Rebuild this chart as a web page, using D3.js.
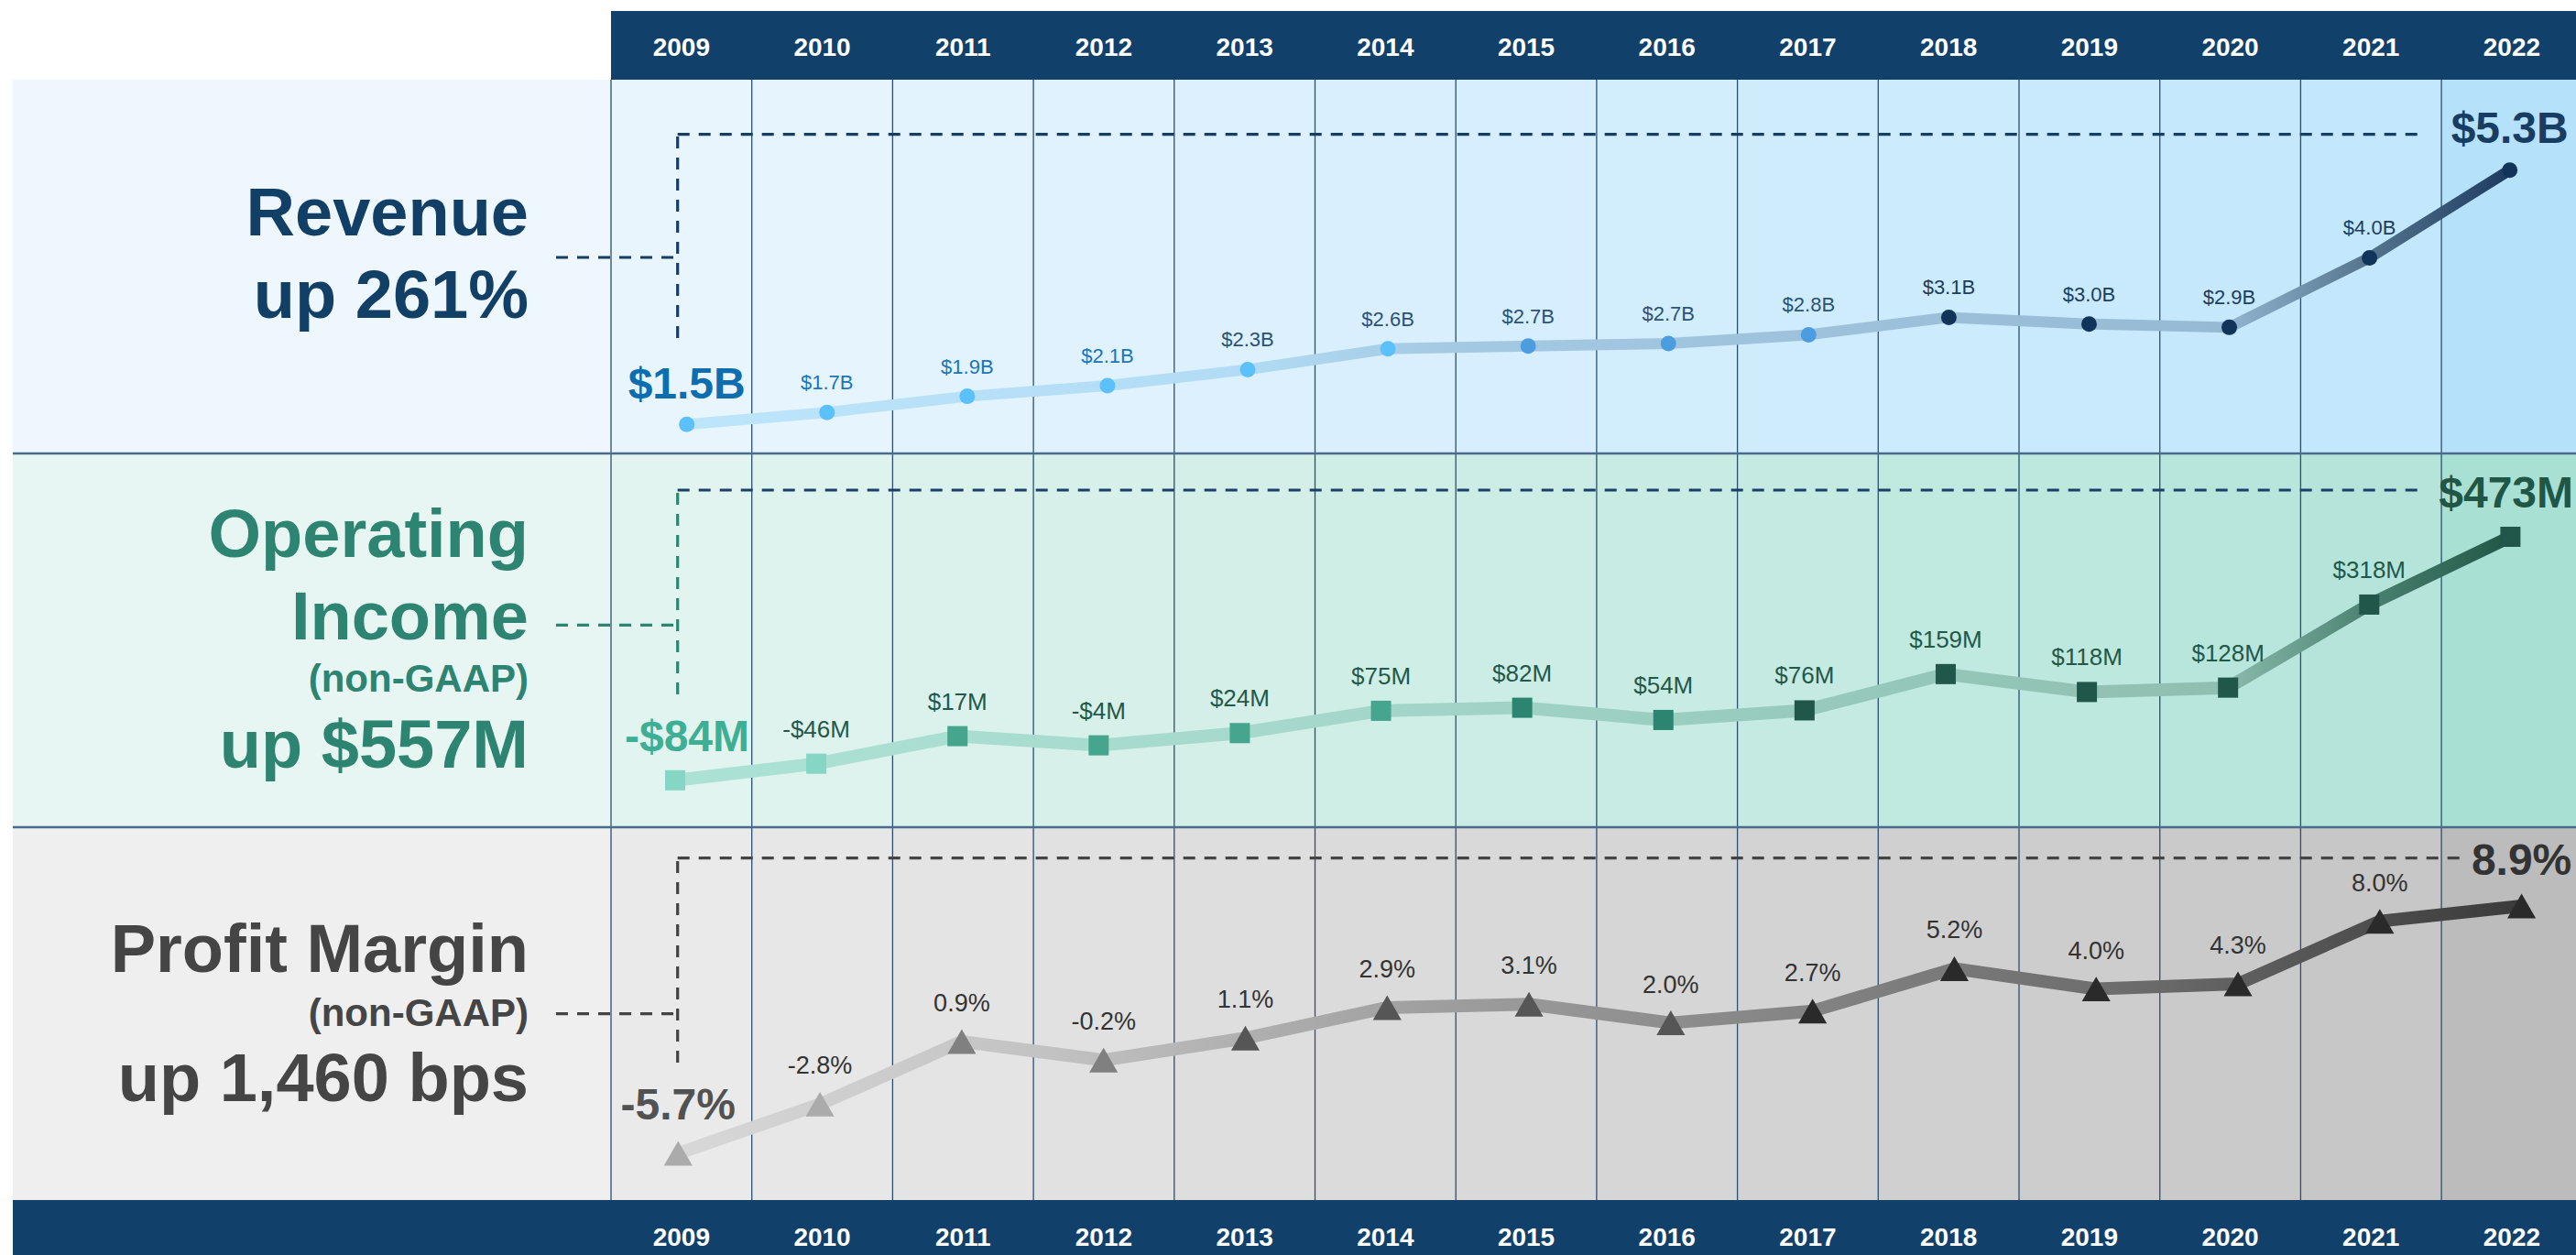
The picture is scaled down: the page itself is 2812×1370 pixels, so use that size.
<!DOCTYPE html>
<html>
<head>
<meta charset="utf-8">
<script src="https://cdn.jsdelivr.net/npm/d3@7"></script>
<style>
  html, body { margin: 0; padding: 0; background: #fff; overflow: hidden; }
  svg { display: block; font-family: "Liberation Sans", Arial, Helvetica, sans-serif; }
</style>
</head>
<body>
<div id="chart"></div>
<script>
// ---- data ----
const years = [2009, 2010, 2011, 2012, 2013, 2014, 2015, 2016, 2017, 2018, 2019, 2020, 2021, 2022];

// revenue, $B
const revenue = [1.50, 1.68, 1.92, 2.08, 2.32, 2.63, 2.67, 2.71, 2.84, 3.10, 3.00, 2.95, 3.99, 5.30];
const revenueLabels = ["$1.5B", "$1.7B", "$1.9B", "$2.1B", "$2.3B", "$2.6B", "$2.7B", "$2.7B", "$2.8B", "$3.1B", "$3.0B", "$2.9B", "$4.0B", "$5.3B"];

// operating income (non-GAAP), $M
const opIncome = [-84, -46, 17, -4, 24, 75, 82, 54, 76, 159, 118, 128, 318, 473];
const opIncomeLabels = ["-$84M", "-$46M", "$17M", "-$4M", "$24M", "$75M", "$82M", "$54M", "$76M", "$159M", "$118M", "$128M", "$318M", "$473M"];

// profit margin (non-GAAP), %
const margin = [-5.7, -2.8, 0.9, -0.2, 1.1, 2.9, 3.1, 2.0, 2.7, 5.2, 4.0, 4.3, 8.0, 8.9];
const marginLabels = ["-5.7%", "-2.8%", "0.9%", "-0.2%", "1.1%", "2.9%", "3.1%", "2.0%", "2.7%", "5.2%", "4.0%", "4.3%", "8.0%", "8.9%"];

const titles = {
  revenue: ["Revenue", "up 261%"],
  opIncome: ["Operating", "Income", "(non-GAAP)", "up $557M"],
  margin: ["Profit Margin", "(non-GAAP)", "up 1,460 bps"]
};

// ---- layout ----
const width = 2812, height = 1370;
const left = 14, colLeft = 667, colW = 153.7;
const titleRight = 577;

const svg = d3.select("#chart").append("svg")
  .attr("width", width)
  .attr("height", height);

const defs = svg.append("defs");

const band = d3.scaleBand().domain(years).range([colLeft, colLeft + colW * years.length]).padding(0);

const panels = [
  { key: "revenue", top: 87, bottom: 495, labelBg: "#edf7fd", c0: "#e8f5fd", c1: "#c3e7fc", last: "#b6e1fb" },
  { key: "opIncome", top: 495, bottom: 903, labelBg: "#e7f6f3", c0: "#e2f4ef", c1: "#b5e5da", last: "#a8e0d3" },
  { key: "margin", top: 903, bottom: 1310, labelBg: "#efefef", c0: "#eaeaea", c1: "#c7c7c7", last: "#bcbcbc" }
];

// backgrounds
panels.forEach(p => {
  svg.append("rect")
    .attr("x", left).attr("y", p.top)
    .attr("width", colLeft - left).attr("height", p.bottom - p.top)
    .attr("fill", p.labelBg);
  const ci = d3.interpolateRgb(p.c0, p.c1);
  svg.append("g").selectAll("rect")
    .data(years)
    .join("rect")
    .attr("x", d => band(d))
    .attr("y", p.top)
    .attr("width", band.bandwidth() + 0.5)
    .attr("height", p.bottom - p.top)
    .attr("fill", (d, i) => i === years.length - 1 ? p.last : ci(i / (years.length - 2)));
});

// header / footer bands
svg.append("rect").attr("x", colLeft).attr("y", 12).attr("width", width - colLeft).attr("height", 75).attr("fill", "#11406a");
svg.append("rect").attr("x", left).attr("y", 1310).attr("width", width - left).attr("height", 70).attr("fill", "#11406a");

// column lines
svg.append("g").selectAll("line")
  .data(years)
  .join("line")
  .attr("x1", d => band(d)).attr("x2", d => band(d))
  .attr("y1", 87).attr("y2", 1310)
  .attr("stroke", "#2b4e72").attr("stroke-width", 1.3);

// panel separators
svg.append("g").selectAll("line")
  .data([495, 903])
  .join("line")
  .attr("x1", left).attr("x2", width)
  .attr("y1", d => d).attr("y2", d => d)
  .attr("stroke", "#4a6b8b").attr("stroke-width", 2.5);

// year labels top and bottom
[60.5, 1360].forEach(yy => {
  svg.append("g").selectAll("text")
    .data(years)
    .join("text")
    .attr("x", d => band(d) + band.bandwidth() / 2)
    .attr("y", yy)
    .attr("text-anchor", "middle")
    .attr("font-size", 28).attr("font-weight", "bold")
    .attr("fill", "#fff")
    .text(d => d);
});

// ---- scales per series ----
const revX = d3.scalePoint().domain(years).range([749.7, 2739.7]);
const oiX = d3.scalePoint().domain(years).range([737, 2740.4]);
const pmX = d3.scalePoint().domain(years).range([740.3, 2752.6]);

const revY = d3.scaleLinear().domain([1.5, 5.3]).range([463.3, 185.7]);
const oiY = d3.scaleLinear().domain([-84, 473]).range([851.8, 586]);
const pmY = d3.scaleLinear().domain([-5.7, 8.9]).range([1259, 989]);

// ---- dashed guides ----
function dashed(points, color) {
  svg.append("path")
    .attr("d", d3.line()(points))
    .attr("fill", "none")
    .attr("stroke", color)
    .attr("stroke-width", 3.2)
    .attr("stroke-dasharray", "13,10");
}
const gx = 739.7, tickL = 607;
// revenue
dashed([[gx, 146.7], [2643.7, 146.7]], "#163d63");
dashed([[gx, 369], [gx, 146.7]], "#163d63");
dashed([[tickL, 281], [gx, 281]], "#163d63");
// operating income
dashed([[gx, 535], [2643.7, 535]], "#1b3f66");
dashed([[gx, 758], [gx, 535]], "#2e8571");
dashed([[tickL, 682.3], [gx, 682.3]], "#2e8571");
// margin
dashed([[gx, 936.7], [2686, 936.7]], "#444444");
dashed([[gx, 1160], [gx, 936.7]], "#444444");
dashed([[tickL, 1106.7], [gx, 1106.7]], "#444444");

// ---- titles ----
function title(lines, color) {
  const g = svg.append("g").attr("fill", color).attr("font-weight", "bold").attr("text-anchor", "end");
  g.selectAll("text")
    .data(lines)
    .join("text")
    .attr("x", titleRight)
    .attr("y", d => d.y)
    .attr("font-size", d => d.size)
    .text(d => d.t);
}
title([
  { t: titles.revenue[0], y: 257, size: 74 },
  { t: titles.revenue[1], y: 347, size: 74 }
], "#123f66");
title([
  { t: titles.opIncome[0], y: 608, size: 74 },
  { t: titles.opIncome[1], y: 698, size: 74 },
  { t: titles.opIncome[2], y: 755, size: 42 },
  { t: titles.opIncome[3], y: 838, size: 74 }
], "#2d8471");
title([
  { t: titles.margin[0], y: 1061, size: 74 },
  { t: titles.margin[1], y: 1120, size: 42 },
  { t: titles.margin[2], y: 1202, size: 74 }
], "#454545");

// ---- gradients for the lines ----
function gradient(id, x1, x2, stops) {
  const g = defs.append("linearGradient")
    .attr("id", id)
    .attr("gradientUnits", "userSpaceOnUse")
    .attr("x1", x1).attr("x2", x2).attr("y1", 0).attr("y2", 0);
  g.selectAll("stop")
    .data(stops)
    .join("stop")
    .attr("offset", d => d[0])
    .attr("stop-color", d => d[1]);
}
gradient("gRev", revX(2009), revX(2022), [
  [0, "#bde5fb"], [0.3, "#b2dcf5"], [0.42, "#a4c9e2"], [0.84, "#97bad4"], [0.92, "#56768f"], [1, "#1c3b60"]
]);
gradient("gOi", oiX(2009), oiX(2022), [
  [0, "#ace2d5"], [0.35, "#a5d8ca"], [0.6, "#97cbbd"], [0.84, "#8fbfb1"], [0.92, "#4e8373"], [1, "#1f5646"]
]);
gradient("gPm", pmX(2009), pmX(2022), [
  [0, "#d8d8d8"], [0.2, "#c2c2c2"], [0.4, "#a0a0a0"], [0.6, "#858585"], [0.8, "#6a6a6a"], [1, "#3a3a3a"]
]);

// ---- series ----
const idx = years.map((d, i) => i);

// revenue
svg.append("path")
  .attr("d", d3.line().x(i => revX(years[i])).y(i => revY(revenue[i]))(idx))
  .attr("fill", "none").attr("stroke", "url(#gRev)")
  .attr("stroke-width", 12).attr("stroke-linejoin", "round").attr("stroke-linecap", "round");

const revDot = d3.scaleThreshold().domain([6, 9]).range(["#5cc0fb", "#4b9de0", "#11345a"]);
svg.append("g").selectAll("circle")
  .data(idx)
  .join("circle")
  .attr("cx", i => revX(years[i]))
  .attr("cy", i => revY(revenue[i]))
  .attr("r", 8.5)
  .attr("fill", i => revDot(i));

// operating income
svg.append("path")
  .attr("d", d3.line().x(i => oiX(years[i])).y(i => oiY(opIncome[i]))(idx))
  .attr("fill", "none").attr("stroke", "url(#gOi)")
  .attr("stroke-width", 14).attr("stroke-linejoin", "round");

const oiSq = d3.scaleThreshold().domain([2, 6, 8]).range(["#85d6c4", "#45a58d", "#2b8571", "#20574a"]);
const sq = 22;
svg.append("g").selectAll("rect")
  .data(idx)
  .join("rect")
  .attr("x", i => oiX(years[i]) - sq / 2)
  .attr("y", i => oiY(opIncome[i]) - sq / 2)
  .attr("width", sq).attr("height", sq)
  .attr("fill", i => oiSq(i));

// margin
svg.append("path")
  .attr("d", d3.line().x(i => pmX(years[i])).y(i => pmY(margin[i]))(idx))
  .attr("fill", "none").attr("stroke", "url(#gPm)")
  .attr("stroke-width", 14).attr("stroke-linejoin", "round");

const pmTri = d3.scaleThreshold().domain([2, 4, 8]).range(["#ababab", "#808080", "#565656", "#2a2a2a"]);
const triSize = 420;
const triA = Math.sqrt(triSize / (Math.sqrt(3) * 3));
svg.append("g").selectAll("path")
  .data(idx)
  .join("path")
  .attr("d", d3.symbol(d3.symbolTriangle, triSize))
  .attr("transform", i => `translate(${pmX(years[i])},${pmY(margin[i]) + triA / 2})`)
  .attr("fill", i => pmTri(i));

// ---- value labels ----
const last = years.length - 1;
const inner = idx.slice(1, last);

const revLab = d3.scaleThreshold().domain([4, 9]).range(["#1a76b8", "#2b5277", "#1c3d5f"]);
svg.append("g").selectAll("text")
  .data(inner)
  .join("text")
  .attr("x", i => revX(years[i]))
  .attr("y", i => revY(revenue[i]) - 25)
  .attr("text-anchor", "middle").attr("font-size", 22)
  .attr("fill", i => revLab(i))
  .text(i => revenueLabels[i]);

svg.append("g").selectAll("text")
  .data(inner)
  .join("text")
  .attr("x", i => oiX(years[i]))
  .attr("y", i => oiY(opIncome[i]) - 29)
  .attr("text-anchor", "middle").attr("font-size", 26)
  .attr("fill", "#235848")
  .text(i => opIncomeLabels[i]);

svg.append("g").selectAll("text")
  .data(inner)
  .join("text")
  .attr("x", i => pmX(years[i]))
  .attr("y", i => pmY(margin[i]) - 33)
  .attr("text-anchor", "middle").attr("font-size", 27)
  .attr("fill", "#333333")
  .text(i => marginLabels[i]);

// big first / last labels (the $473M one is pinned to the right edge so it stays inside)
const big = [
  { x: revX(years[0]), y: revY(revenue[0]) - 28, t: revenueLabels[0], c: "#0c6eae", a: "middle" },
  { x: revX(years[last]), y: revY(revenue[last]) - 30, t: revenueLabels[last], c: "#173d63", a: "middle" },
  { x: oiX(years[0]) + 13, y: oiY(opIncome[0]) - 32, t: opIncomeLabels[0], c: "#3daf94", a: "middle" },
  { x: width - 3, y: oiY(opIncome[last]) - 32, t: opIncomeLabels[last], c: "#1f5646", a: "end" },
  { x: pmX(years[0]), y: pmY(margin[0]) - 37, t: marginLabels[0], c: "#525252", a: "middle" },
  { x: pmX(years[last]), y: pmY(margin[last]) - 34, t: marginLabels[last], c: "#333333", a: "middle" }
];
svg.append("g").selectAll("text")
  .data(big)
  .join("text")
  .attr("x", d => d.x).attr("y", d => d.y)
  .attr("text-anchor", d => d.a)
  .attr("font-size", 48).attr("font-weight", "bold")
  .attr("fill", d => d.c)
  .text(d => d.t);
</script>
</body>
</html>
